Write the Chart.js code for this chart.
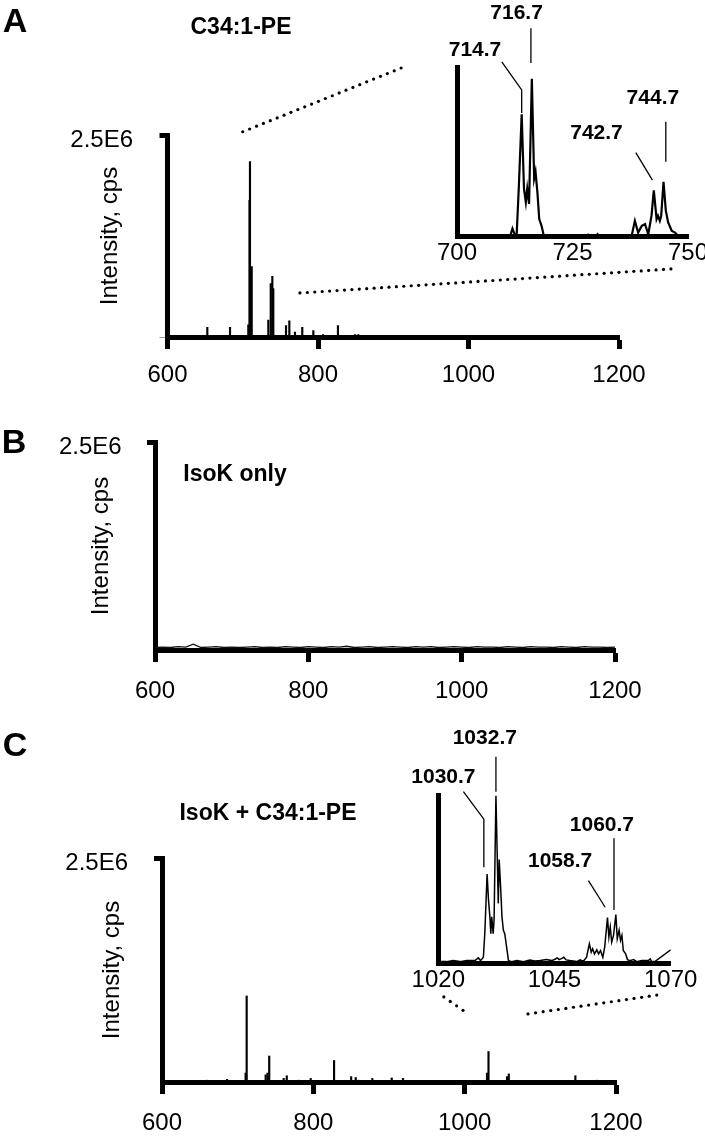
<!DOCTYPE html>
<html>
<head>
<meta charset="utf-8">
<script src="https://cdn.jsdelivr.net/npm/chart.js@4.4.0/dist/chart.umd.min.js"></script>
<style>
  html, body { margin:0; padding:0; background:#fff; overflow:hidden; }
  #fig { position:relative; width:705px; height:1137px; overflow:hidden; }
  #fig canvas { position:absolute; left:0; top:0; }
  .lbl { position:absolute; transform:translate(-50%,-50%); font-family:"Liberation Sans", Arial, sans-serif;
         font-weight:bold; line-height:1; white-space:nowrap; color:#000; }
  .panel { font-size:34px; }
  .ttl { font-size:23px; }
</style>
</head>
<body>
<div id="fig">
  <canvas id="chartA" width="760" height="1137"></canvas>
  <canvas id="insetA" width="760" height="1137"></canvas>
  <canvas id="chartB" width="760" height="1137"></canvas>
  <canvas id="chartC" width="760" height="1137"></canvas>
  <canvas id="insetC" width="760" height="1137"></canvas>
  <canvas id="overlay" width="705" height="1137"></canvas>

  <div class="lbl panel" style="left:15px;top:20px">A</div>
  <div class="lbl panel" style="left:14px;top:441px">B</div>
  <div class="lbl panel" style="left:15px;top:744px">C</div>
  <div class="lbl ttl" style="left:241px;top:26px">C34:1-PE</div>
  <div class="lbl ttl" style="left:235px;top:473px">IsoK only</div>
  <div class="lbl ttl" style="left:268px;top:812px">IsoK + C34:1-PE</div>
</div>

<script>
// ---- data (m/z vs intensity) ----
const mainTicks = [600, 800, 1000, 1200];
const insetATicks = [700, 725, 750];
const insetCTicks = [1020, 1045, 1070];
const yMax = 2.5e6;
const yMaxLabel = '2.5E6';

// A: C34:1-PE, stick spectrum (cps)
const mzA  = [652.9, 683.1, 707.4, 709.0, 709.6, 711.9, 734.0, 737.2, 739.3, 740.6, 757.5, 761.9, 769.4, 779.1, 793.8, 806.7, 826.5, 849.2, 853.6];
const intA = [0.12e6, 0.12e6, 0.15e6, 1.69e6, 2.17e6, 0.87e6, 0.21e6, 0.66e6, 0.75e6, 0.60e6, 0.14e6, 0.20e6, 0.06e6, 0.12e6, 0.08e6, 0.03e6, 0.14e6, 0.03e6, 0.03e6];

// A inset: profile 700-750 (% of inset axis)
const insetAmz  = [700, 711.5, 712.0, 712.6, 712.9, 713.4, 714.0, 714.5, 714.9, 715.2, 715.6, 716.2, 716.7, 717.0, 717.4, 717.8, 718.3, 718.8,
                   728.1, 728.4, 728.8, 730.1, 730.4, 730.7, 737.8, 738.5, 739.2, 740.0, 740.7, 741.4, 742.1, 742.6, 743.2, 743.5,
                   743.9, 744.2, 744.7, 745.2, 745.7, 746.5, 747.2, 747.9, 750];
const insetAint = [0, 0, 4.4, 0, 0, 30, 72, 28, 20, 28, 19, 93, 34, 38, 26, 10, 6, 0,
                   0, 0.8, 0, 0, 1, 0, 0, 9, 2, 6, 7, 1, 12, 27, 10, 12,
                   9, 12, 32, 15, 8, 3, 2, 0, 0];

// B: IsoK only, baseline noise
const mzB  = [600, 610, 620, 630, 640, 650, 660, 670, 680, 690, 700, 710, 720, 730, 740, 750, 760, 770, 780, 790, 800,
              810, 820, 830, 840, 850, 860, 870, 880, 890, 900, 910, 920, 930, 940, 950, 960, 970, 980, 990, 1000,
              1010, 1020, 1030, 1040, 1050, 1060, 1070, 1080, 1090, 1100, 1110, 1120, 1130, 1140, 1150, 1160, 1170, 1180, 1190, 1200];
const intB = [0.03e6, 0.035e6, 0.03e6, 0.04e6, 0.035e6, 0.07e6, 0.03e6, 0.035e6, 0.04e6, 0.03e6, 0.035e6,
              0.03e6, 0.035e6, 0.04e6, 0.03e6, 0.035e6, 0.03e6, 0.04e6, 0.035e6, 0.03e6, 0.04e6,
              0.035e6, 0.03e6, 0.04e6, 0.035e6, 0.045e6, 0.03e6, 0.035e6, 0.04e6, 0.03e6, 0.035e6,
              0.04e6, 0.035e6, 0.03e6, 0.04e6, 0.035e6, 0.04e6, 0.03e6, 0.035e6, 0.04e6, 0.035e6,
              0.03e6, 0.04e6, 0.035e6, 0.035e6, 0.03e6, 0.04e6, 0.035e6, 0.03e6, 0.04e6, 0.035e6,
              0.035e6, 0.03e6, 0.04e6, 0.035e6, 0.03e6, 0.04e6, 0.035e6, 0.035e6, 0.03e6, 0.035e6];

// C: IsoK + C34:1-PE, stick spectrum
const mzC  = [659.5, 686, 710.5, 711.9, 737, 739.5, 741.7, 760.8, 764.9, 780.4, 796.5, 827.4, 850, 856, 860, 878, 903.6, 918.5, 942,
              1029.5, 1031.5, 1056, 1058.3, 1082, 1146.3, 1174.4];
const intC = [0.02e6, 0.03e6, 0.10e6, 0.96e6, 0.08e6, 0.10e6, 0.29e6, 0.04e6, 0.07e6, 0.02e6, 0.04e6, 0.24e6, 0.06e6, 0.05e6, 0.02e6, 0.04e6, 0.045e6, 0.04e6, 0.01e6,
              0.10e6, 0.34e6, 0.06e6, 0.09e6, 0.01e6, 0.07e6, 0.02e6];

// C inset: profile 1020-1070
const insetCmz  = [1020.0, 1021.8, 1023.2, 1024.7, 1026.1, 1027.9, 1028.6, 1029.1, 1029.7, 1030.0, 1030.5, 1030.8, 1031.1, 1031.3, 1031.5,
                   1031.8, 1032.0, 1032.4, 1032.7, 1032.9, 1033.1, 1033.4, 1033.7, 1034.0, 1034.3, 1034.7, 1035.1, 1035.8, 1036.9, 1038.3,
                   1039.7, 1040.8, 1041.9, 1043.3, 1044.4, 1045.1, 1045.6, 1046.0, 1046.5, 1047.0, 1047.5, 1048.3, 1049.8, 1050.5, 1051.2,
                   1051.9, 1052.5, 1052.9, 1053.2, 1053.6, 1054.1, 1054.5, 1054.9, 1055.4, 1055.8, 1056.4, 1056.7, 1057.0, 1057.3, 1057.7,
                   1058.2, 1058.5, 1058.9, 1059.2, 1059.5, 1059.8, 1060.3, 1060.7, 1061.2, 1062.0, 1062.7, 1063.8, 1065.2, 1065.6, 1065.9,
                   1066.6, 1070.0];
const insetCint = [1, 1, 1.6, 1, 1.6, 1.6, 3.2, 1.6, 3.6, 17.6, 53, 37.6, 27.6, 17.6, 27.6,
                   17.6, 25.6, 99.6, 61.6, 35.6, 61.6, 45.6, 27.6, 19.6, 17.6, 9.6, 1.6, 1, 1.6, 1,
                   2, 1.4, 1.6, 2.2, 1.6, 2.4, 3.2, 2.2, 2.8, 3.6, 2, 1.6, 1, 2, 1.2,
                   3.6, 11.6, 6.6, 8.6, 5.6, 8, 5.6, 7.6, 3.6, 9.6, 27.2, 15.6, 21.6, 12.6, 16.6,
                   29, 14.6, 19.6, 13.6, 16.6, 7.6, 5.6, 2.2, 1.6, 2.2, 1, 1.6, 1.6, 2.6, 1,
                   1, 8];

// ---- annotations (placed in data units of each inset) ----
const labelsA = [
  { text: '716.7', at: [712.9, 132], leader: [[716.0, 123], [716.0, 102.4]] },
  { text: '714.7', at: [703.9, 110], leader: [[709.7, 103], [714.0, 86.4], [714.0, 72.8]] },
  { text: '744.7', at: [742.4, 81.7], leader: [[745.2, 67.6], [745.2, 44]] },
  { text: '742.7', at: [730.2, 61], leader: [[738.7, 49.3], [742.3, 33.1]] }
];
const labelsC = [
  { text: '1032.7', at: [1030.0, 133.6], leader: [[1032.4, 122.8], [1032.4, 102]] },
  { text: '1030.7', at: [1021.1, 110.7], leader: [[1025.4, 102], [1029.8, 85.6], [1029.8, 57]] },
  { text: '1060.7', at: [1055.2, 82.2], leader: [[1057.8, 74.3], [1057.8, 31.7]] },
  { text: '1058.7', at: [1046.2, 60.4], leader: [[1052.3, 49.1], [1055.9, 33.3]] }
];

// ---- helpers ----
Chart.defaults.font.family = '"Liberation Sans", Arial, sans-serif';
Chart.defaults.color = '#000';
const W = 760, H = 1137;
const Y_LEFT = 50;      // left edge of every main y scale box (labels are clipped to it)
const X_HEIGHT = 55;    // height of main x scale boxes
const pts = (xs, ys) => xs.map((x, i) => ({ x, y: ys[i] }));

const fixedLayout = (area, yWidth, xHeight) => ({
  padding: { left: area.left - yWidth, top: area.top, right: W - area.right, bottom: Math.max(0, H - area.bottom - xHeight) }
});

const peakLabels = {
  id: 'peakLabels',
  afterDatasetsDraw(chart, args, opts) {
    const items = opts.items || [];
    if (!items.length) return;
    const { ctx, scales: { x, y } } = chart;
    ctx.save();
    ctx.fillStyle = '#000';
    ctx.strokeStyle = '#000';
    ctx.lineWidth = 1.3;
    ctx.font = 'bold 21px "Liberation Sans", Arial, sans-serif';
    ctx.textAlign = 'center';
    ctx.textBaseline = 'middle';
    items.forEach(it => {
      ctx.fillText(it.text, x.getPixelForValue(it.at[0]), y.getPixelForValue(it.at[1]));
      ctx.beginPath();
      it.leader.forEach((p, i) => {
        const px = x.getPixelForValue(p[0]), py = y.getPixelForValue(p[1]);
        if (i) ctx.lineTo(px, py); else ctx.moveTo(px, py);
      });
      ctx.stroke();
    });
    ctx.restore();
  }
};

function mainChart(id, type, dataset, area, titleX, xPad, yPad, zeroTick) {
  const yWidth = area.left - Y_LEFT;
  const xHeight = Math.min(X_HEIGHT, H - area.bottom);
  return new Chart(document.getElementById(id), {
    type,
    data: { datasets: [dataset] },
    options: {
      responsive: false, animation: false, events: [],
      layout: fixedLayout(area, yWidth, xHeight),
      plugins: { legend: { display: false }, tooltip: { enabled: false } },
      scales: {
        x: {
          type: 'linear', min: 600, max: 1200, offset: false,
          afterBuildTicks: s => { s.ticks = mainTicks.map(v => ({ value: v })); },
          afterFit: s => { s.height = xHeight; },
          grid: { drawOnChartArea: false, offset: false, tickLength: 12, tickWidth: 5, tickColor: '#000' },
          border: { color: '#000', width: 5 },
          ticks: { padding: xPad, font: { size: 24 }, autoSkip: false, maxRotation: 0, callback: v => String(v) }
        },
        y: {
          type: 'linear', min: 0, max: yMax,
          afterBuildTicks: s => { s.ticks = [{ value: 0 }, { value: yMax }]; },
          afterFit: s => { s.width = yWidth; },
          grid: {
            drawOnChartArea: false, tickLength: 8,
            tickWidth: c => (c.tick && c.tick.value === 0 ? 1 : 5),
            tickColor: c => (c.tick && c.tick.value === 0 ? zeroTick : '#000')
          },
          border: { color: '#000', width: 5 },
          ticks: { padding: yPad, labelOffset: 5, font: { size: 24 }, callback: v => (v === yMax ? yMaxLabel : '') },
          title: { display: true, text: 'Intensity, cps', font: { size: 24 }, padding: { top: titleX - 14.4 - Y_LEFT, bottom: 0 } }
        }
      }
    }
  });
}

function insetChart(id, data, ticks, area, lineWidth, labels) {
  return new Chart(document.getElementById(id), {
    type: 'line',
    data: { datasets: [{ data, borderColor: '#000', borderWidth: lineWidth, pointRadius: 0, tension: 0, fill: false }] },
    options: {
      responsive: false, animation: false, events: [],
      layout: fixedLayout(area, 10, 45),
      plugins: { legend: { display: false }, tooltip: { enabled: false }, peakLabels: { items: labels } },
      scales: {
        x: {
          type: 'linear', min: ticks[0], max: ticks[ticks.length - 1],
          afterBuildTicks: s => { s.ticks = ticks.map(v => ({ value: v })); },
          afterFit: s => { s.height = 45; },
          grid: { display: false, drawTicks: false },
          border: { color: '#000', width: 5 },
          ticks: { padding: 2.5, font: { size: 24 }, autoSkip: false, maxRotation: 0, callback: v => String(v) }
        },
        y: {
          type: 'linear', min: 0, max: 100,
          afterFit: s => { s.width = 10; },
          grid: { display: false, drawTicks: false },
          border: { color: '#000', width: 5 },
          ticks: { display: false }
        }
      }
    },
    plugins: [peakLabels]
  });
}

// ---- charts ----
const sticks = (xs, ys) => ({ data: pts(xs, ys), backgroundColor: '#000', barThickness: 1.5, borderWidth: 0 });

const chartA = mainChart('chartA', 'bar', sticks(mzA, intA),
  { left: 167.5, top: 135, right: 619, bottom: 337 }, 110, 11.6, 26.5, '#999');
const insetA = insetChart('insetA', pts(insetAmz, insetAint), insetATicks,
  { left: 457, top: 67, right: 688, bottom: 236 }, 2.2, labelsA);

const chartB = mainChart('chartB', 'line',
  { data: pts(mzB, intB), borderColor: '#111', borderWidth: 1.3, pointRadius: 0, tension: 0, fill: false },
  { left: 155, top: 442, right: 615, bottom: 650 }, 101, 15.3, 25.4, 'rgba(0,0,0,0)');

const chartC = mainChart('chartC', 'bar', sticks(mzC, intC),
  { left: 162, top: 858, right: 616, bottom: 1082 }, 112.6, 14.6, 26, 'rgba(0,0,0,0)');
const insetC = insetChart('insetC', pts(insetCmz, insetCint), insetCTicks,
  { left: 438.3, top: 795, right: 670.7, bottom: 963.3 }, 1.5, labelsC);

// ---- dotted zoom connectors ----
const connectors = [
  { from: [chartA, 700, 2.54e6], to: [insetA, 687.9, 99.4] },
  { from: [chartA, 776, 0.545e6], to: [insetA, 746.3, -19.5] },
  { from: [insetC, 1021.2, -20], to: [chartC, 997.8, 0.80e6] },
  { from: [chartC, 1083.7, 0.76e6], to: [insetC, 1067.0, -18.9] }
];
const ov = document.getElementById('overlay').getContext('2d');
ov.fillStyle = '#000';
const toPx = ([c, x, y]) => [c.scales.x.getPixelForValue(x), c.scales.y.getPixelForValue(y)];
connectors.forEach(cn => {
  const [x1, y1] = toPx(cn.from), [x2, y2] = toPx(cn.to);
  const n = Math.max(1, Math.round(Math.hypot(x2 - x1, y2 - y1) / 7.5));
  for (let i = 0; i <= n; i++) {
    ov.beginPath();
    ov.arc(x1 + (x2 - x1) * i / n, y1 + (y2 - y1) * i / n, 1.6, 0, Math.PI * 2);
    ov.fill();
  }
});
</script>
</body>
</html>
